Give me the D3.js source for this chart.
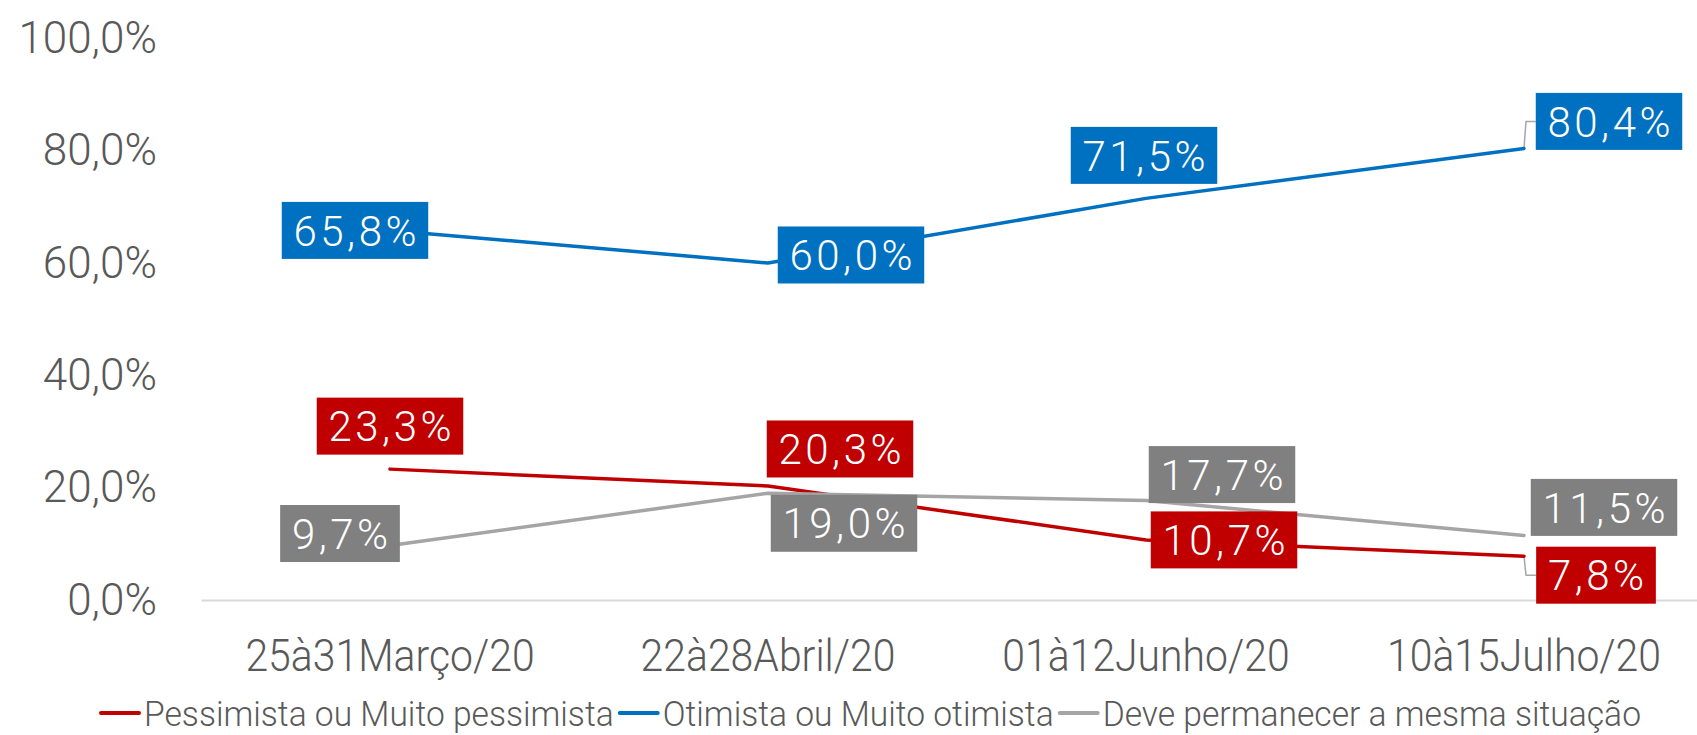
<!DOCTYPE html>
<html>
<head>
<meta charset="utf-8">
<title>Expectativa - situação econômica</title>
<script src="https://d3js.org/d3.v7.min.js"></script>
<style>
  body { margin: 0; background: #fff; }
  svg { display: block; }
  svg text { font-family: Roboto, "Noto Sans", sans-serif; font-weight: 300; }
  .axis text { fill: #595959; }
  .axis line { display: none; }
  text.val { fill: #fff; text-anchor: middle; }
  text.leg { fill: #595959; }
</style>
</head>
<body>
<svg id="chart" width="1697" height="735"></svg>
<script>
var categories = ["25à31Março/20", "22à28Abril/20", "01à12Junho/20", "10à15Julho/20"];
var pessimista = [23.3, 20.3, 10.7, 7.8];
var otimista = [65.8, 60.0, 71.5, 80.4];
var mesma = [9.7, 19.0, 17.7, 11.5];
var seriesNames = ["Pessimista ou Muito pessimista", "Otimista ou Muito otimista", "Deve permanecer a mesma situação"];
var yTicks = [0, 20, 40, 60, 80, 100];

var lineColors = ["#C00000", "#0070C0", "#A5A5A5"];
var boxColors = ["#C00000", "#0070C0", "#808080"];

// where each data label box sits, centre relative to its point (px)
var labelOffsets = [
    [[0, -43], [72, -37], [78, 0], [72, 19]],
    [[-35, 0], [83, -8], [-2, -43], [85, -27]],
    [[-50, -12], [76, 30], [76, -26], [80, -28]]
];

var allSeries = [pessimista, otimista, mesma];

var svg = d3.select("#chart");

var pt = d3.formatLocale({decimal: ",", thousands: ".", grouping: [3], currency: ["R$", ""]});
var fmt = pt.format(".1f");
function pct(v) { return fmt(v) + "%"; }

var xScale = d3.scaleBand().domain(categories).range([201, 1713]);
var yScale = d3.scaleLinear().domain([0, 100]).range([600, 38.3]);

function px(i) { return xScale(categories[i]) + xScale.bandwidth() / 2; }

// squeeze text a bit, the original font is narrower than Roboto
function condense(sel, k) {
    sel.each(function() {
        var w = this.getComputedTextLength();
        d3.select(this).attr("textLength", w * k).attr("lengthAdjust", "spacingAndGlyphs");
    });
}

// y axis
var yAxis = svg.append("g")
    .attr("class", "axis")
    .attr("transform", "translate(201,0)")
    .call(d3.axisLeft(yScale).tickValues(yTicks).tickFormat(pct).tickSize(0).tickPadding(44));
yAxis.attr("font-family", null).attr("font-size", null).style("font-size", "44px");
yAxis.select(".domain").remove();

// x axis, its domain is the grey baseline
var xAxis = svg.append("g")
    .attr("class", "axis")
    .attr("transform", "translate(0," + yScale(0) + ")")
    .call(d3.axisBottom(xScale).tickSize(0).tickPadding(40));
xAxis.attr("font-family", null).attr("font-size", null).style("font-size", "44px");
xAxis.select(".domain").attr("stroke", "#D9D9D9").attr("stroke-width", 2);
condense(xAxis.selectAll("text"), 0.93);

// lines
var line = d3.line()
    .x(function(d, i) { return px(i); })
    .y(function(d) { return yScale(d); });

allSeries.forEach(function(vals, s) {
    svg.append("path")
        .datum(vals)
        .attr("d", line)
        .attr("fill", "none")
        .attr("stroke", lineColors[s])
        .attr("stroke-width", 3.5)
        .attr("stroke-linejoin", "round")
        .attr("stroke-linecap", "round");
});

// data labels
var boxH = 57, pad = 10;
allSeries.forEach(function(vals, s) {
    vals.forEach(function(v, i) {
        var x0 = px(i), y0 = yScale(v);
        var cx = x0 + labelOffsets[s][i][0];
        var cy = y0 + labelOffsets[s][i][1];
        var g = svg.append("g");
        var rect = g.append("rect").attr("fill", boxColors[s]);
        var t = g.append("text")
            .attr("class", "val")
            .attr("x", cx + 1.75)
            .attr("y", cy)
            .attr("dy", "0.36em")
            .style("font-size", "42px")
            .style("letter-spacing", "3.5px")
            .text(pct(v));
        var w = t.node().getComputedTextLength() + 2 * pad;
        rect.attr("x", cx - w / 2).attr("y", cy - boxH / 2)
            .attr("width", w).attr("height", boxH);
        // leader line when the box was pulled away from the point
        var left = cx - w / 2;
        if (left - x0 > 10) {
            svg.insert("path", "g")
                .attr("d", "M" + x0 + "," + y0 + "L" + (x0 + 2) + "," + cy + "L" + left + "," + cy)
                .attr("fill", "none")
                .attr("stroke", "#A6A6A6")
                .attr("stroke-width", 1.5);
        }
    });
});

// legend
var lx = 101, ly = 713;
seriesNames.forEach(function(name, s) {
    svg.append("line")
        .attr("x1", lx).attr("x2", lx + 38)
        .attr("y1", ly).attr("y2", ly)
        .attr("stroke", lineColors[s])
        .attr("stroke-width", 4)
        .attr("stroke-linecap", "round");
    var t = svg.append("text")
        .attr("class", "leg")
        .attr("x", lx + 43)
        .attr("y", ly)
        .attr("dy", "0.36em")
        .style("font-size", "35px")
        .text(name);
    var w = t.node().getComputedTextLength() * 0.96;
    condense(t, 0.96);
    lx = lx + 43 + w + 6;
});
</script>
</body>
</html>
